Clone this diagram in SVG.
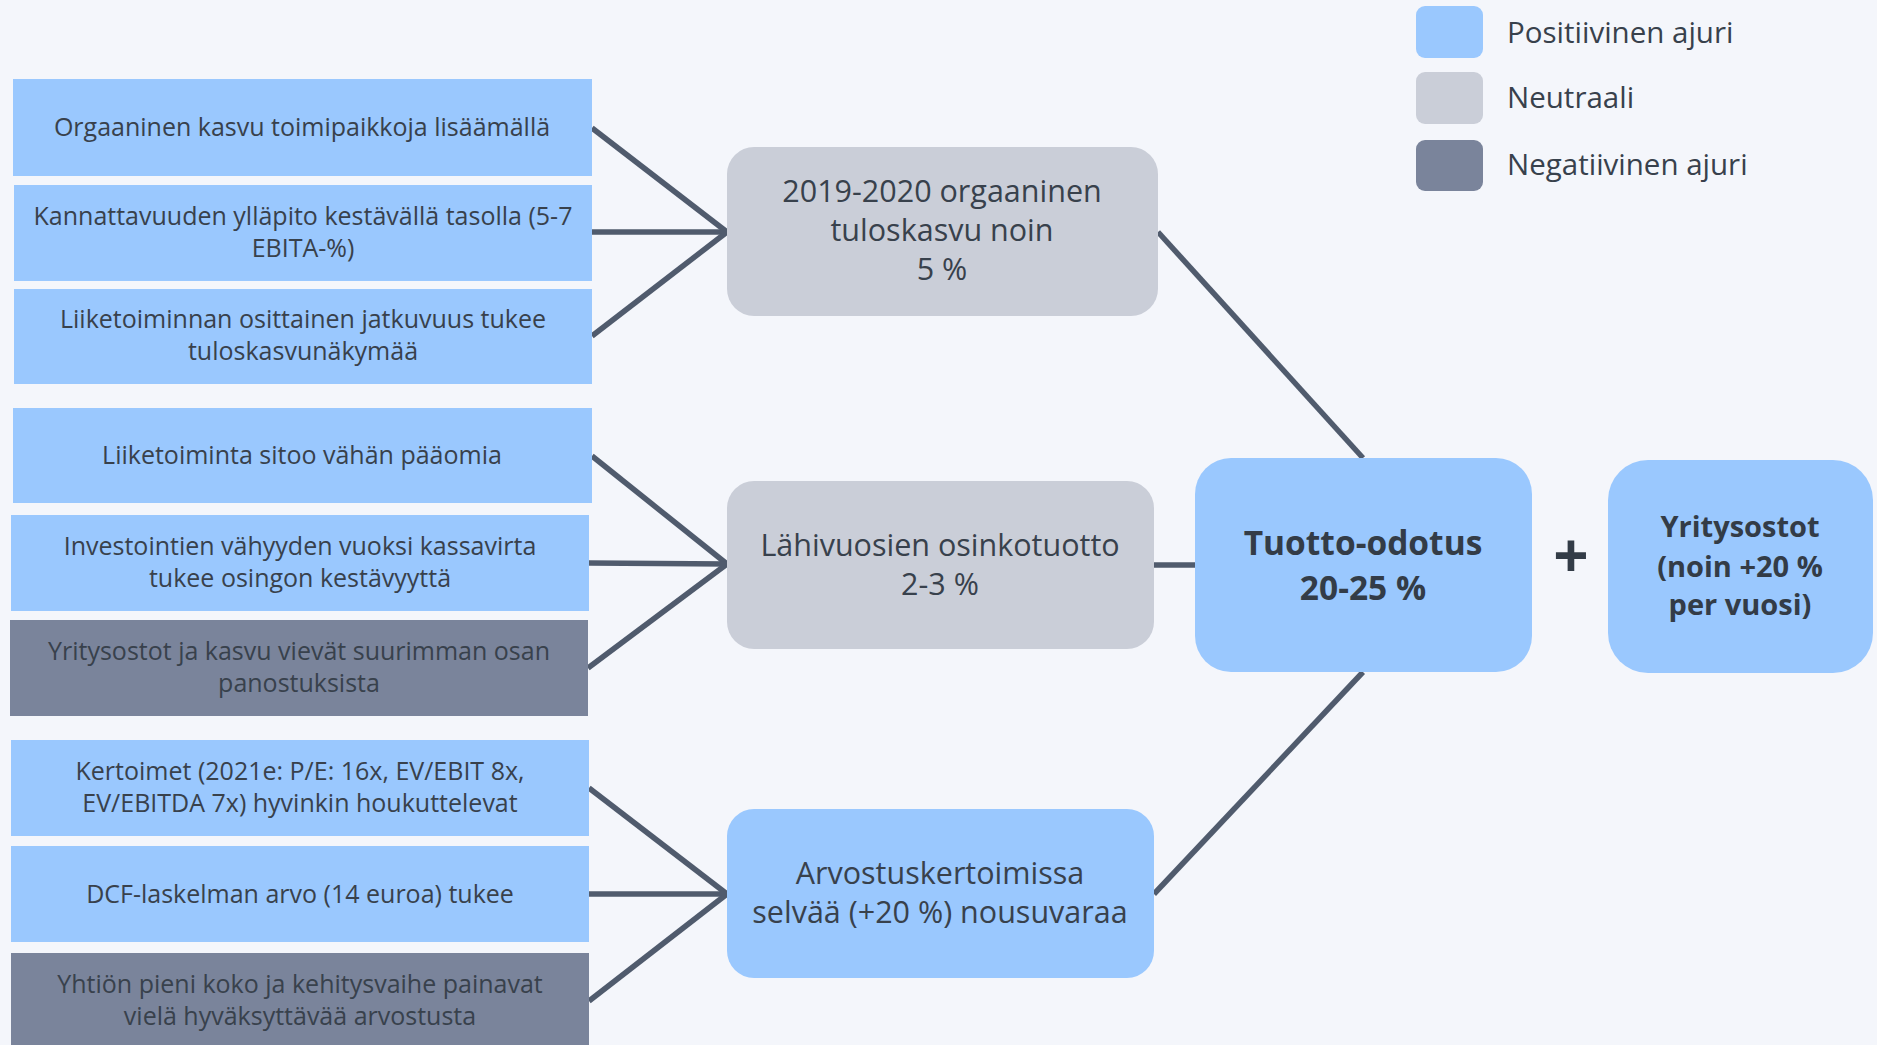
<svg xmlns="http://www.w3.org/2000/svg" width="1877" height="1045" viewBox="0 0 1877 1045">
<style>
.bg{fill:#F4F6FB}
.pos{fill:#9AC8FE}
.neu{fill:#CACED8}
.neg{fill:#7A849B}
.t{font-family:"Open Sans","Liberation Sans",sans-serif;fill:#38414C;text-anchor:middle}
.s{font-size:25px}
.m{font-size:30.5px}
.b{font-weight:700;fill:#333C47}
.lg{font-family:"Open Sans","Liberation Sans",sans-serif;fill:#38414C;font-size:29.5px}
.c line{stroke:#505B6D;stroke-width:5.5;stroke-linecap:butt}
</style>
<rect class="bg" x="0" y="0" width="1877" height="1045"/>
<g id="legend">
<rect class="pos" x="1416" y="6" width="67" height="52" rx="9"/>
<rect class="neu" x="1416" y="72" width="67" height="52" rx="9"/>
<rect class="neg" x="1416" y="140" width="67" height="51" rx="9"/>
<text class="lg" x="1507" y="43">Positiivinen ajuri</text>
<text class="lg" x="1507" y="108">Neutraali</text>
<text class="lg" x="1507" y="175">Negatiivinen ajuri</text>
</g>
<g class="c" id="connectors">
<line x1="592" y1="128" x2="727" y2="232"/>
<line x1="592" y1="232" x2="727" y2="232"/>
<line x1="592" y1="336" x2="727" y2="232"/>
<line x1="592" y1="456" x2="727" y2="564"/>
<line x1="589" y1="563" x2="727" y2="564"/>
<line x1="588" y1="668" x2="727" y2="564"/>
<line x1="589" y1="788" x2="727" y2="894"/>
<line x1="589" y1="894" x2="727" y2="894"/>
<line x1="589" y1="1001" x2="727" y2="894"/>
<line x1="1158" y1="232" x2="1363" y2="458"/>
<line x1="1154" y1="565" x2="1195" y2="565"/>
<line x1="1154" y1="894" x2="1363" y2="672"/>
</g>
<g id="box1"><rect class="pos" x="13" y="79" width="579" height="97"/>
<text class="t s" x="302" y="136">Orgaaninen kasvu toimipaikkoja lisäämällä</text></g>
<g id="box2"><rect class="pos" x="14" y="185" width="578" height="96"/>
<text class="t s" x="303" y="225">Kannattavuuden ylläpito kestävällä tasolla (5-7</text>
<text class="t s" x="303" y="257">EBITA-%)</text></g>
<g id="box3"><rect class="pos" x="14" y="289" width="578" height="95"/>
<text class="t s" x="303" y="328">Liiketoiminnan osittainen jatkuvuus tukee</text>
<text class="t s" x="303" y="360">tuloskasvunäkymää</text></g>
<g id="box4"><rect class="pos" x="13" y="408" width="579" height="95"/>
<text class="t s" x="302" y="464">Liiketoiminta sitoo vähän pääomia</text></g>
<g id="box5"><rect class="pos" x="11" y="515" width="578" height="96"/>
<text class="t s" x="300" y="555">Investointien vähyyden vuoksi kassavirta</text>
<text class="t s" x="300" y="587">tukee osingon kestävyyttä</text></g>
<g id="box6"><rect class="neg" x="10" y="620" width="578" height="96"/>
<text class="t s" x="299" y="660">Yritysostot ja kasvu vievät suurimman osan</text>
<text class="t s" x="299" y="692">panostuksista</text></g>
<g id="box7"><rect class="pos" x="11" y="740" width="578" height="96"/>
<text class="t s" x="300" y="780">Kertoimet (2021e: P/E: 16x, EV/EBIT 8x,</text>
<text class="t s" x="300" y="812">EV/EBITDA 7x) hyvinkin houkuttelevat</text></g>
<g id="box8"><rect class="pos" x="11" y="846" width="578" height="96"/>
<text class="t s" x="300" y="903">DCF-laskelman arvo (14 euroa) tukee</text></g>
<g id="box9"><rect class="neg" x="11" y="953" width="578" height="96"/>
<text class="t s" x="300" y="993">Yhtiön pieni koko ja kehitysvaihe painavat</text>
<text class="t s" x="300" y="1025">vielä hyväksyttävää arvostusta</text></g>
<g id="node1"><rect class="neu" x="727" y="147" width="431" height="169" rx="27"/>
<text class="t m" x="942" y="202">2019-2020 orgaaninen</text>
<text class="t m" x="942" y="241">tuloskasvu noin</text>
<text class="t m" x="942" y="280">5 %</text></g>
<g id="node2"><rect class="neu" x="727" y="481" width="427" height="168" rx="27"/>
<text class="t m" x="940" y="556">Lähivuosien osinkotuotto</text>
<text class="t m" x="940" y="595">2-3 %</text></g>
<g id="node3"><rect class="pos" x="727" y="809" width="427" height="169" rx="27"/>
<text class="t m" x="940" y="884">Arvostuskertoimissa</text>
<text class="t m" x="940" y="923">selvää (+20 %) nousuvaraa</text></g>
<g id="tuotto"><rect class="pos" x="1195" y="458" width="337" height="214" rx="36"/>
<text class="t b" style="font-size:33.5px" x="1363" y="555">Tuotto-odotus</text>
<text class="t b" style="font-size:33.5px" x="1363" y="600">20-25 %</text></g>
<g id="plus"><text class="t b" style="font-size:62px" x="1571" y="578">+</text></g>
<g id="yritysostot"><rect class="pos" x="1608" y="460" width="265" height="213" rx="40"/>
<text class="t b" style="font-size:29px" x="1740" y="537">Yritysostot</text>
<text class="t b" style="font-size:29px" x="1740" y="577">(noin +20 %</text>
<text class="t b" style="font-size:29px" x="1740" y="615">per vuosi)</text></g>
</svg>
